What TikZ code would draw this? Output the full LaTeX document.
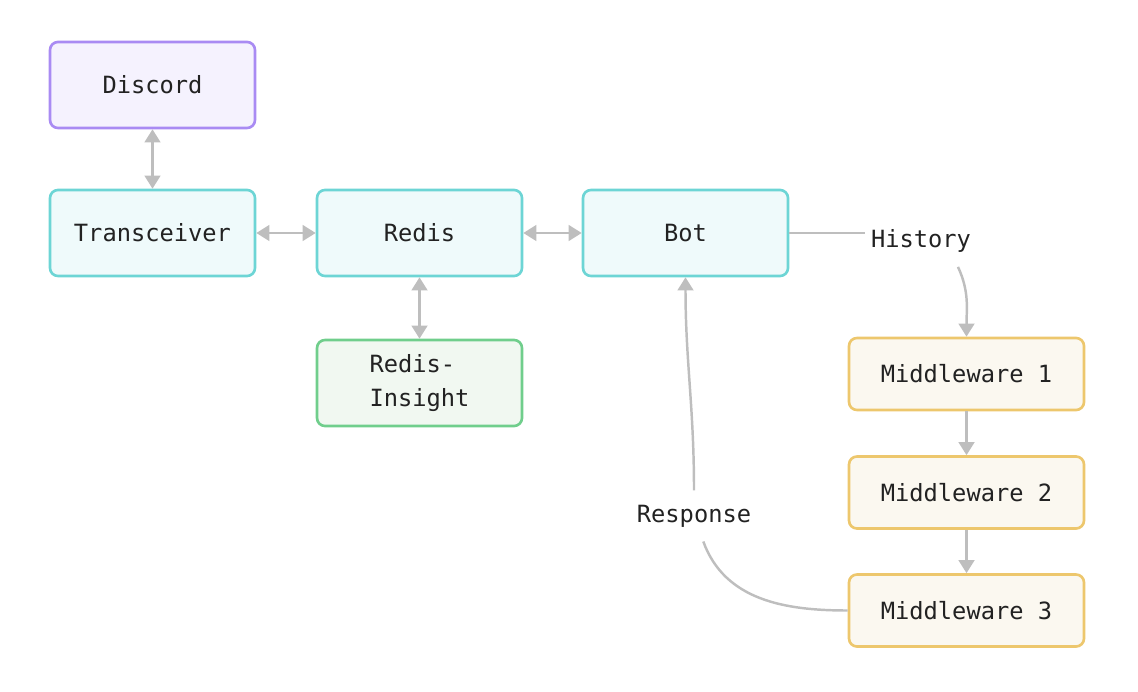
\documentclass[tikz,border=0pt]{standalone}
\usepackage{fontspec}
\setmonofont{DejaVu Sans Mono}
\usepackage{tikz}
\usetikzlibrary{arrows.meta}
\usetikzlibrary{calc}

\definecolor{purpleline}{HTML}{A98BF3}
\definecolor{purplefill}{HTML}{F5F2FE}
\definecolor{cyanline}{HTML}{6DD5D5}
\definecolor{cyanfill}{HTML}{EFFAFB}
\definecolor{greenline}{HTML}{70CE8C}
\definecolor{greenfill}{HTML}{F1F8F1}
\definecolor{yellowline}{HTML}{EDC76D}
\definecolor{yellowfill}{HTML}{FBF8F0}
\definecolor{linkgray}{HTML}{BEBEBE}
\definecolor{textgray}{HTML}{222222}

\tikzset{
	box/.style={draw, line width=1.5pt, rounded corners=4.5pt, minimum width=4.1cm, minimum height=1.72cm, text=textgray, font=\ttfamily\fontsize{13.5}{19.3}\selectfont},
	discordbox/.style={box, draw=purpleline, fill=purplefill},
	servicebox/.style={box, draw=cyanline, fill=cyanfill},
	toolbox/.style={box, draw=greenline, fill=greenfill, align=left},
	middlebox/.style={box, draw=yellowline, fill=yellowfill, minimum width=4.7cm, minimum height=1.44cm},
	lbl/.style={inner xsep=3pt, inner ysep=8pt, text=textgray, font=\ttfamily\fontsize{13.5}{16}\selectfont},
	link/.style={draw=linkgray, line width=1.4pt},
	tip/.style={-{Triangle[length=7.5pt,width=9pt]}},
	tips/.style={{Triangle[length=7.5pt,width=9pt]}-{Triangle[length=7.5pt,width=9pt]}}
}

\begin{document}
\begin{tikzpicture}[x=0.02cm,y=-0.02cm]
		\useasboundingbox (0,0) rectangle (1138,692);
		
		\node[discordbox] (discord) at (152.5,85) {Discord};
		\node[servicebox] (transceiver) at (152.5,233) {Transceiver};
		\node[servicebox] (redis) at (419.5,233) {Redis};
		\node[servicebox] (bot) at (685.5,233) {Bot};
		\node[toolbox] (insight) at (419.5,383) {Redis-\\Insight};
		
		\node[middlebox] (mw1) at (966.5,374) {Middleware 1};
		\node[middlebox] (mw2) at (966.5,492.5) {Middleware 2};
		\node[middlebox] (mw3) at (966.5,610.5) {Middleware 3};
		
		\node[lbl] (history) at (921,241) {History};
		\node[lbl] (response) at (694,516) {Response};
		
		\draw[link, tips] (discord) -- (transceiver);
		\draw[link, tips] (transceiver) -- (redis);
		\draw[link, tips] (redis) -- (bot);
		\draw[link, tips] (redis) -- (insight);
		
		\draw[link] (bot.east) -- (bot.east -| history.west);
		\draw[link, tip] (history.-35) to[out=-65, in=90] (mw1.north);
		\draw[link, tip] (mw1) -- (mw2);
		\draw[link, tip] (mw2) -- (mw3);
		
		\draw[link] (mw3.west) to[out=180, in=-70] (response.-70);
		\draw[link, tip] (response.north) to[out=90, in=-90] (bot.south);
	\end{tikzpicture}
\end{document}
